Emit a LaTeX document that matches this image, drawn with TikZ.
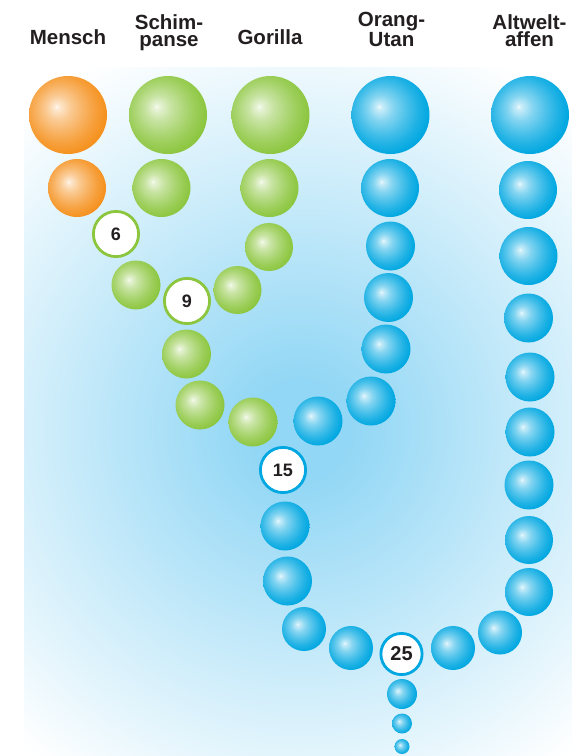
\documentclass[tikz,border=0pt]{standalone}
\usepackage{fontspec}
\setmainfont{Liberation Sans}
\definecolor{cO}{HTML}{F5911E}
\definecolor{cG}{HTML}{8CC63F}
\definecolor{cB}{HTML}{00A7E1}
\definecolor{bgc}{HTML}{92D7F5}
\definecolor{txt}{HTML}{231F20}
\pgfdeclareradialshading{sphO}{\pgfpoint{-7.5bp}{5.5bp}}{color(0bp)=(white!95!cO); color(1.5bp)=(white!80!cO); color(8bp)=(white!52!cO); color(16bp)=(white!28!cO); color(22bp)=(white!12!cO); color(28bp)=(cO); color(50bp)=(cO)}
\pgfdeclareradialshading{sphG}{\pgfpoint{-7.5bp}{5.5bp}}{color(0bp)=(white!95!cG); color(1.5bp)=(white!80!cG); color(8bp)=(white!52!cG); color(16bp)=(white!28!cG); color(22bp)=(white!12!cG); color(28bp)=(cG); color(50bp)=(cG)}
\pgfdeclareradialshading{sphB}{\pgfpoint{-7.5bp}{5.5bp}}{color(0bp)=(white!95!cB); color(1.5bp)=(white!80!cB); color(8bp)=(white!52!cB); color(16bp)=(white!28!cB); color(22bp)=(white!12!cB); color(28bp)=(cB); color(50bp)=(cB)}
\pgfdeclareradialshading{bgshade}{\pgfpoint{0bp}{0bp}}{color(0bp)=(bgc); color(3bp)=(bgc); color(25bp)=(white); color(50bp)=(white)}
\begin{document}
\begin{tikzpicture}[x=1pt,y=-1pt,
  ballO/.style={circle,inner sep=0pt,minimum size=#1,shade,shading=sphO},
  ballG/.style={circle,inner sep=0pt,minimum size=#1,shade,shading=sphG},
  ballB/.style={circle,inner sep=0pt,minimum size=#1,shade,shading=sphB},
  num/.style={circle,inner sep=0pt,fill=white,line width=2.8pt,text=txt,font=\bfseries\fontsize{18}{18}\selectfont},
  numG/.style={num,draw=cG,minimum size=45.2pt},
  numB/.style={num,draw=cB,minimum size=#1},
  head/.style={anchor=base,inner sep=0pt,text=txt,align=center,font=\bfseries\fontsize{20.5}{16.5}\selectfont}]
\useasboundingbox (0,0) rectangle (572,756);
% background
\begin{scope}
  \clip (24,67) rectangle (572,756);
  \shade[shading=bgshade] (300,430) circle (420pt);
\end{scope}
% headers
\node[head] (hM) at (68,44) {Mensch};
\node[head] (hS) at (169,46) {Schim-\\panse};
\node[head] (hG) at (270,44) {Gorilla};
\node[head] (hO) at (391.5,46) {Orang-\\Utan};
\node[head] (hA) at (529.5,46) {Altwelt-\\affen};
% Mensch
\node[ballO=78pt] (m1) at (68,115) {};
\node[ballO=58pt] (m2) at (77,188) {};
% Schimpanse
\node[ballG=78pt] (s1) at (168,115) {};
\node[ballG=58pt] (s2) at (161.5,188) {};
% Gorilla
\node[ballG=78pt] (g1) at (270.5,115) {};
\node[ballG=58pt] (g2) at (269.5,188) {};
\node[ballG=48pt] (g3) at (269,247) {};
\node[ballG=48pt] (g4) at (237.5,290) {};
% common green branch
\node[ballG=49pt] (h1) at (136,285) {};
\node[ballG=49pt] (h2) at (186.5,354) {};
\node[ballG=49pt] (h3) at (200,405) {};
\node[ballG=49pt] (h4) at (253,422) {};
% Orang-Utan
\node[ballB=78pt] (o1) at (390.5,115) {};
\node[ballB=58pt] (o2) at (390,188) {};
\node[ballB=49pt] (o3) at (390.5,246) {};
\node[ballB=49pt] (o4) at (388.5,297.5) {};
\node[ballB=49pt] (o5) at (386,349) {};
\node[ballB=49pt] (o6) at (371,401) {};
\node[ballB=49pt] (o7) at (318,421) {};
% hominid trunk
\node[ballB=49pt] (b1) at (285,526) {};
\node[ballB=49pt] (b2) at (287.5,581) {};
\node[ballB=44pt] (b3) at (304,629) {};
\node[ballB=44pt] (b4) at (351,648) {};
\node[ballB=44pt] (b5) at (453,648) {};
\node[ballB=44pt] (b6) at (500,632.5) {};
% Altweltaffen
\node[ballB=78pt] (a1) at (530,115) {};
\node[ballB=58pt] (a2) at (528,190) {};
\node[ballB=58pt] (a3) at (528.5,256) {};
\node[ballB=49pt] (a4) at (528.5,318) {};
\node[ballB=49pt] (a5) at (530,377) {};
\node[ballB=49pt] (a6) at (530,432) {};
\node[ballB=49pt] (a7) at (529,485) {};
\node[ballB=48pt] (a8) at (529,540) {};
\node[ballB=48pt] (a9) at (529,592) {};
% tail
\node[ballB=30pt] (t1) at (402,694) {};
\node[ballB=20pt] (t2) at (402,723.5) {};
\node[ballB=15pt] (t3) at (402,746.5) {};
% numbers
\node[numG] (n6) at (116,234) {6};
\node[numG] (n9) at (187,301) {9};
\node[numB=45.2pt] (n15) at (283,470) {15};
\node[numB=41.2pt,font=\bfseries\fontsize{20}{20}\selectfont] (n25) at (401.5,654) {25};
\end{tikzpicture}
\end{document}
